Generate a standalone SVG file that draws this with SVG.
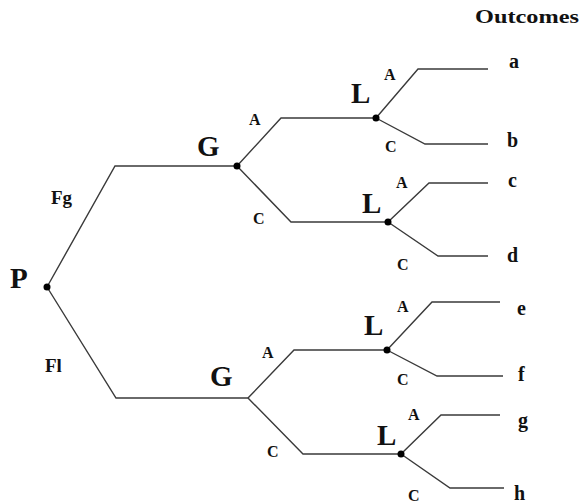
<svg xmlns="http://www.w3.org/2000/svg" width="580" height="504" viewBox="0 0 580 504">
<style>
.e{fill:none;stroke:#3a3a3a;stroke-width:1.4;stroke-linejoin:miter}
.d{fill:#000}
text{font-family:"Liberation Serif","Times New Roman",serif;font-weight:bold;fill:#111}
.big{font-size:29px}
.mid{font-size:19px}
.sm{font-size:16px}
.out{font-size:20px}
.hd{font-size:19px}
</style>
<rect width="580" height="504" fill="#fff"/>
<g id="connectors">
<path class="e" d="M47,287 L115,166 L237,166"/>
<path class="e" d="M47,287 L116,398 L248,398"/>
<path class="e" d="M237,166 L281,118 L376,118"/>
<path class="e" d="M237,166 L291,222 L388,222"/>
<path class="e" d="M376,118 L418,69 L488,69"/>
<path class="e" d="M376,118 L425,144 L488,144"/>
<path class="e" d="M388,222 L429,183 L488,183"/>
<path class="e" d="M388,222 L438,256 L488,256"/>
<path class="e" d="M248,398 L294,350 L387,350"/>
<path class="e" d="M248,398 L303,454 L401,454"/>
<path class="e" d="M387,350 L432,302 L500,302"/>
<path class="e" d="M387,350 L437,376 L503,376"/>
<path class="e" d="M401,454 L441,415 L500,415"/>
<path class="e" d="M401,454 L450,488 L504,488"/>
<text class="mid" x="51" y="204">Fg</text>
<text class="mid" x="45" y="372">Fl</text>
<text class="sm" x="249" y="125">A</text>
<text class="sm" x="253" y="224">C</text>
<text class="sm" x="384" y="80">A</text>
<text class="sm" x="385" y="152">C</text>
<text class="sm" x="396" y="188">A</text>
<text class="sm" x="397" y="270">C</text>
<text class="sm" x="262" y="358">A</text>
<text class="sm" x="267" y="457">C</text>
<text class="sm" x="397" y="312">A</text>
<text class="sm" x="397" y="385">C</text>
<text class="sm" x="408" y="420">A</text>
<text class="sm" x="408" y="501">C</text>
</g>
<g id="P"><circle class="d" cx="47" cy="287" r="3.5"/><text class="big" x="10" y="288">P</text></g>
<g id="G1"><circle class="d" cx="237" cy="166" r="3.5"/><text class="big" x="197" y="156">G</text></g>
<g id="G2"><text class="big" x="210" y="386">G</text></g>
<g id="L1"><circle class="d" cx="376" cy="118" r="3.5"/><text class="big" x="351" y="103">L</text></g>
<g id="L2"><circle class="d" cx="388" cy="222" r="3.5"/><text class="big" x="362" y="213">L</text></g>
<g id="L3"><circle class="d" cx="387" cy="350" r="3.5"/><text class="big" x="364" y="335">L</text></g>
<g id="L4"><circle class="d" cx="401" cy="454" r="3.5"/><text class="big" x="377" y="445">L</text></g>
<g id="outcomes">
<text class="hd" x="475" y="23" textLength="104" lengthAdjust="spacingAndGlyphs">Outcomes</text>
<text class="out" x="509" y="68">a</text>
<text class="out" x="507" y="147">b</text>
<text class="out" x="508" y="187">c</text>
<text class="out" x="507" y="262">d</text>
<text class="out" x="517" y="315">e</text>
<text class="out" x="518" y="381">f</text>
<text class="out" x="518" y="427">g</text>
<text class="out" x="514" y="500">h</text>
</g>
</svg>
